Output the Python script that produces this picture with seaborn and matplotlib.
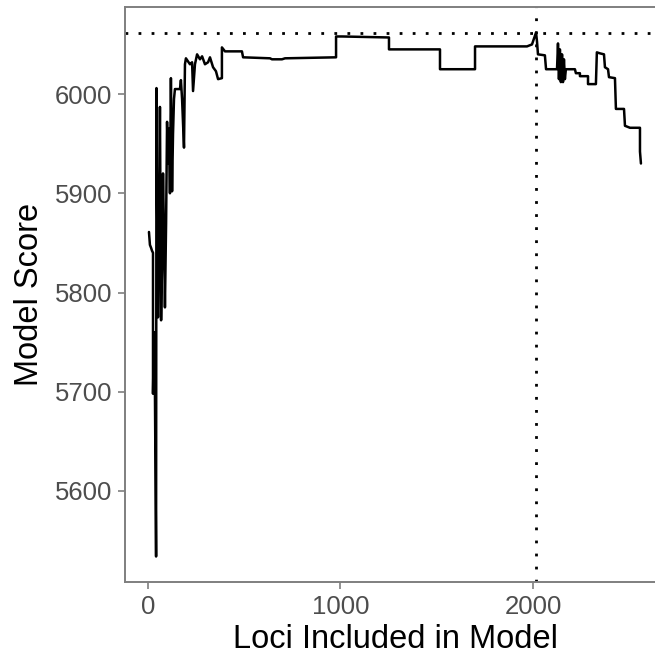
import numpy as np
import pandas as pd
import matplotlib
matplotlib.use("Agg")
import matplotlib.pyplot as plt
import seaborn as sns

loci = [5, 10, 16, 21, 26, 26, 31, 36, 42, 44, 47, 52, 57, 62, 68, 73, 78, 83, 88, 94,
        99, 104, 109, 114, 119, 125, 130, 135, 140, 166, 171, 177, 187, 192, 197, 218,
        229, 234, 244, 255, 270, 281, 296, 312, 322, 338, 353, 364, 384, 384, 400, 488,
        494, 634, 644, 696, 712, 977, 977, 1008, 1252, 1252, 1517, 1517, 1699, 1699,
        1969, 1995, 2016, 2021, 2026, 2062, 2068, 2125, 2130, 2135, 2140, 2145, 2151,
        2156, 2161, 2166, 2171, 2218, 2223, 2244, 2244, 2286, 2286, 2327, 2332, 2348,
        2369, 2374, 2390, 2395, 2426, 2431, 2473, 2478, 2504, 2556, 2556, 2561]
score = [5861, 5848, 5845, 5842, 5840, 5698, 5760, 5700, 5534, 6006, 5900, 5775, 5850,
         5987, 5772, 5830, 5920, 5860, 5785, 5870, 5972, 5930, 5965, 5900, 6016, 5902,
         5960, 5995, 6005, 6005, 6014, 5995, 5946, 6030, 6036, 6030, 6032, 6003, 6030,
         6040, 6035, 6038, 6030, 6032, 6037, 6027, 6023, 6015, 6016, 6047, 6043, 6043,
         6037, 6036, 6035, 6035, 6036, 6037, 6058, 6058, 6057, 6045, 6045, 6025, 6025,
         6048, 6048, 6050, 6062, 6053, 6040, 6039, 6025, 6025, 6051, 6015, 6045, 6012,
         6040, 6012, 6035, 6015, 6025, 6025, 6021, 6021, 6018, 6018, 6010, 6010, 6042,
         6041, 6040, 6027, 6025, 6017, 6016, 5985, 5985, 5968, 5966, 5966, 5942, 5930]

x_ticks = [0, 1000, 2000]
y_ticks = [5600, 5700, 5800, 5900, 6000]

df = pd.DataFrame({"loci": loci, "score": score})

sns.set_theme(style="white")
plt.rcParams["font.family"] = ["Liberation Sans", "DejaVu Sans"]

fig = plt.figure(figsize=(6.55, 6.59), dpi=100)
ax = fig.add_axes([125 / 655, 1 - 582 / 659, 540 / 655, 575 / 659])

sns.lineplot(data=df, x="loci", y="score", sort=False, estimator=None,
             color="black", linewidth=1.8, ax=ax)

best = df.loc[df["score"].idxmax()]
ax.axhline(best["score"], color="black", linewidth=2.0, linestyle=(0, (1, 3.7)))
ax.axvline(best["loci"], color="black", linewidth=2.0, linestyle=(0, (1, 3.7)))

ax.set_xlim(-119.5, 2686)
ax.set_ylim(5508.3, 6087.7)
ax.set_xticks(x_ticks)
ax.set_yticks(y_ticks)
ax.set_xticklabels([str(t) for t in x_ticks])
ax.set_yticklabels([str(t) for t in y_ticks])

for s in ax.spines.values():
    s.set_visible(True)
    s.set_color("#7f7f7f")
    s.set_linewidth(1.4)

ax.tick_params(axis="both", which="both", direction="out", length=5, width=1.2,
               color="#7f7f7f", labelcolor="#4d4d4d", labelsize=18.5,
               bottom=True, left=True, pad=4)
ax.set_xlabel("Loci Included in Model", fontsize=23.5, color="black", labelpad=4)
ax.set_ylabel("Model Score", fontsize=23.5, color="black", labelpad=7)
ax.grid(False)

fig.savefig("out.png", dpi=100)
